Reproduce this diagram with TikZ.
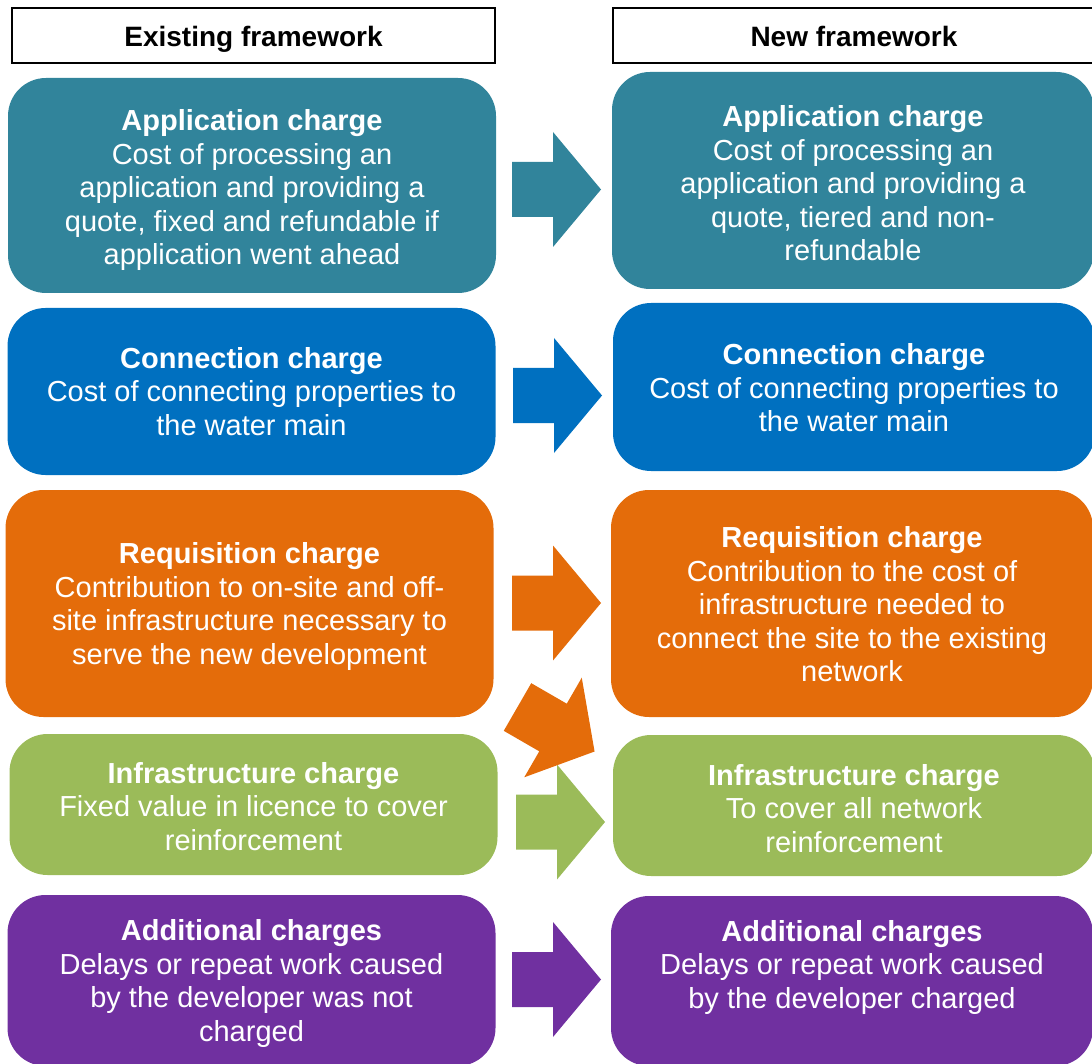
\documentclass[tikz,border=0pt]{standalone}
\usepackage{fontspec}
\setmainfont{Liberation Sans}
\definecolor{appteal}{HTML}{31849B}
\definecolor{conblue}{HTML}{0070C0}
\definecolor{reqorange}{HTML}{E46C0A}
\definecolor{infgreen}{HTML}{9BBB59}
\definecolor{addpurple}{HTML}{7030A0}
% invisible strut that pushes a box's text block down a little
\newcommand\drop[1]{\rule{0pt}{#1pt}}

\begin{document}
\begin{tikzpicture}[x=1pt, y=-1pt,
      head/.style={draw=black, line width=1.3pt, minimum height=55pt,
                   text height=24pt, text depth=2.5pt,
                   inner sep=0pt, font=\fontsize{28}{32}\selectfont\bfseries},
      stage/.style={rounded corners=38pt, text=white, align=center,
                    inner sep=0pt, font=\fontsize{29}{33.5}\selectfont},
      lstage/.style={stage, minimum width=488pt},
      rstage/.style={stage, minimum width=482pt},
      blockarr/.pic={\path[pic actions] (0,-27.5) -- (41,-27.5) -- (41,-57.5)
                     -- (89,0) -- (41,57.5) -- (41,27.5) -- (0,27.5) -- cycle;}
    ]
    \useasboundingbox (0,0) rectangle (1092,1064);

    %% ---- column headers ----
    \node[head, minimum width=483pt] at (253.5,35.5) (exhead) {Existing framework};
    \node[head, minimum width=482pt] at (854,35.5)   (nwhead) {New framework};

    %% ---- existing framework ----
    \node[lstage, fill=appteal, minimum height=215pt] at (252,185.5) (exapp)
          {\drop{31}\textbf{Application charge}\\Cost of processing an\\application and providing a\\quote, fixed and refundable if\\application went ahead};
    \node[lstage, fill=conblue, minimum height=167pt] at (251.5,391.5) (excon)
          {\textbf{Connection charge}\\Cost of connecting properties to\\the water main};
    \node[lstage, fill=reqorange, minimum height=227pt] at (249.5,603.5) (exreq)
          {\drop{27}\textbf{Requisition charge}\\Contribution to on-site and off-\\site infrastructure necessary to\\serve the new development};
    \node[lstage, fill=infgreen, minimum height=141pt] at (253.5,804.5) (exinf)
          {\drop{25}\textbf{Infrastructure charge}\\Fixed value in licence to cover\\reinforcement};
    \node[lstage, fill=addpurple, minimum height=171pt] at (251.5,980.5) (exadd)
          {\drop{27}\textbf{Additional charges}\\Delays or repeat work caused\\by the developer was not\\charged};

    %% ---- new framework ----
    \node[rstage, fill=appteal, minimum height=217pt] at (853,180.5) (nwapp)
          {\drop{27}\textbf{Application charge}\\Cost of processing an\\application and providing a\\quote, tiered and non-\\refundable};
    \node[rstage, fill=conblue, minimum height=168pt] at (854,387) (nwcon)
          {\drop{23}\textbf{Connection charge}\\Cost of connecting properties to\\the water main};
    \node[rstage, fill=reqorange, minimum height=227pt] at (852,603.5) (nwreq)
          {\drop{23}\textbf{Requisition charge}\\Contribution to the cost of\\infrastructure needed to\\connect the site to the existing\\network};
    \node[rstage, fill=infgreen, minimum height=141pt] at (854,805.5) (nwinf)
          {\drop{27}\textbf{Infrastructure charge}\\To cover all network\\reinforcement};
    \node[rstage, fill=addpurple, minimum height=170pt] at (852,981) (nwadd)
          {\textbf{Additional charges}\\Delays or repeat work caused\\by the developer charged\\\mbox{}};

    %% ---- block arrows ----
    \pic[fill=appteal]   at (512,189.5) {blockarr};
    \pic[fill=conblue]   at (513,395.5) {blockarr};
    \pic[fill=reqorange] at (512,603)   {blockarr};
    \pic[fill=infgreen]  at (516,822)   {blockarr};
    \pic[fill=addpurple] at (512,979.5) {blockarr};

    %% requisition feeds infrastructure too
    \pic[fill=reqorange, rotate=-30] at (517.5,707) {blockarr};

  \end{tikzpicture}
\end{document}
